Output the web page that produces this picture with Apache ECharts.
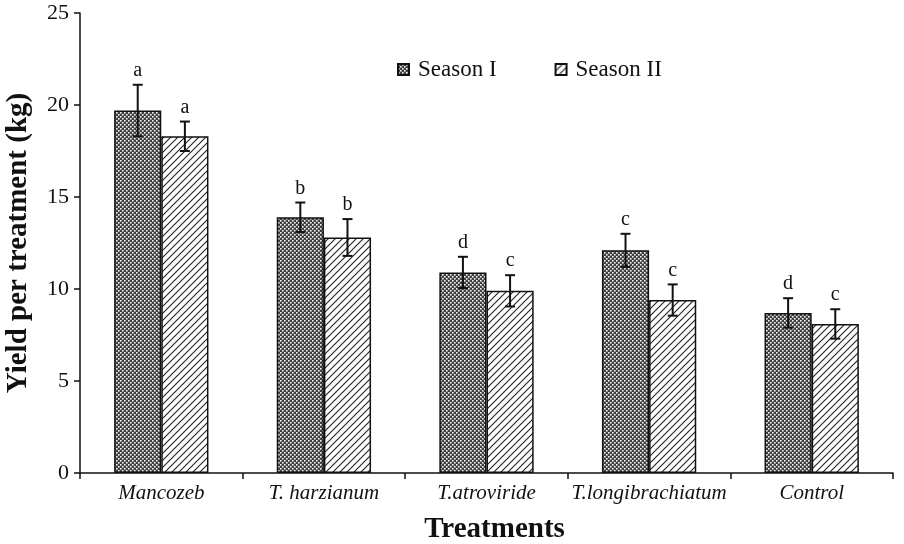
<!DOCTYPE html>
<html><head><meta charset="utf-8">
<script src="https://cdn.jsdelivr.net/npm/echarts@6/dist/echarts.min.js"></script>
<style>html,body{margin:0;padding:0;background:#fff}#c{width:904px;height:544px}</style>
</head><body><div id="c"></div>
<script>
var categories = ['Mancozeb', 'T. harzianum', 'T.atroviride', 'T.longibrachiatum', 'Control'];
var seasonI = [19.7, 13.9, 10.9, 12.1, 8.7];
var seasonII = [18.3, 12.8, 9.9, 9.4, 8.1];
var errI = [1.4, 0.8, 0.85, 0.9, 0.8];
var errII = [0.8, 1.0, 0.85, 0.85, 0.8];
var lettersI = ['a', 'b', 'd', 'c', 'd'];
var lettersII = ['a', 'b', 'c', 'c', 'c'];
var yTicks = [0, 5, 10, 15, 20, 25];

function checkerPattern() {
  var c = document.createElement('canvas'); c.width = 4; c.height = 4;
  var g = c.getContext('2d');
  g.fillStyle = '#404040'; g.fillRect(0, 0, 4, 4);
  g.fillStyle = '#f4f4f4';
  g.fillRect(0, 0, 1.6, 1.6); g.fillRect(2, 2, 1.6, 1.6);
  return c;
}
function hatchPattern() {
  var s = 7;
  var c = document.createElement('canvas'); c.width = s; c.height = s;
  var g = c.getContext('2d');
  g.fillStyle = '#ffffff'; g.fillRect(0, 0, s, s);
  g.strokeStyle = '#222'; g.lineWidth = 1.1;
  g.beginPath();
  g.moveTo(0, s); g.lineTo(s, 0);
  g.moveTo(-1, 1); g.lineTo(1, -1);
  g.moveTo(s - 1, s + 1); g.lineTo(s + 1, s - 1);
  g.stroke();
  return c;
}
var fillI = { image: checkerPattern(), repeat: 'repeat' };
var fillII = { image: hatchPattern(), repeat: 'repeat' };

var GAP = 0.42;
var serif = '"Liberation Serif", "Times New Roman", serif';
function errRender(vals, errs, letters, side) {
  return function (params, api) {
    var i = api.value(0);
    var band = api.size([1, 0])[0];
    var bw = band * (1 - GAP) / 2;
    var base = api.coord([i, vals[i]]);
    var x = base[0] + side * bw / 2;
    var top = api.coord([i, vals[i] + errs[i]])[1];
    var bot = api.coord([i, vals[i] - errs[i]])[1];
    var cap = 5;
    var st = { stroke: '#111', lineWidth: 2 };
    return {
      type: 'group',
      children: [
        { type: 'line', shape: { x1: x, y1: top, x2: x, y2: bot }, style: st },
        { type: 'line', shape: { x1: x - cap, y1: top, x2: x + cap, y2: top }, style: st },
        { type: 'line', shape: { x1: x - cap, y1: bot, x2: x + cap, y2: bot }, style: st },
        { type: 'text', x: x, y: top - 4, style: { text: letters[i], fill: '#111', font: '20px ' + serif, align: 'center', verticalAlign: 'bottom' } }
      ]
    };
  };
}

var chart = echarts.init(document.getElementById('c'), null, { renderer: 'canvas' });
chart.setOption({
  animation: false,
  backgroundColor: '#fff',
  textStyle: { fontFamily: serif, color: '#111' },
  grid: { left: 80, right: 11, top: 13, bottom: 71, containLabel: false, outerBoundsMode: 'none' },
  legend: {
    left: 392, top: 53, itemWidth: 11, itemHeight: 11, itemGap: 58, icon: 'rect',
    textStyle: { fontFamily: serif, fontSize: 23, color: '#111', padding: [0, 0, 0, 4] },
    data: ['Season I', 'Season II']
  },
  xAxis: {
    type: 'category', data: categories,
    axisLine: { lineStyle: { color: '#111', width: 1.5 } },
    axisTick: { show: true, length: 6, interval: 0, lineStyle: { color: '#111', width: 1.5 } },
    axisLabel: { fontFamily: serif, fontStyle: 'italic', fontSize: 21, color: '#111', margin: 10, interval: 0 },
    name: 'Treatments', nameLocation: 'middle', nameGap: 42,
    nameTextStyle: { fontFamily: serif, fontWeight: 'bold', fontSize: 29, color: '#111', padding: [0, 0, 0, 16] }
  },
  yAxis: {
    type: 'value', min: yTicks[0], max: yTicks[yTicks.length - 1], interval: 5,
    splitLine: { show: false },
    axisLine: { show: true, lineStyle: { color: '#111', width: 1.5 } },
    axisTick: { show: true, length: 6, lineStyle: { color: '#111', width: 1.5 } },
    axisLabel: { fontFamily: serif, fontSize: 22, color: '#111', margin: 11 },
    name: 'Yield per treatment (kg)', nameLocation: 'middle', nameGap: 47,
    nameTextStyle: { fontFamily: serif, fontWeight: 'bold', fontSize: 29, color: '#111' }
  },
  series: [
    { name: 'Season I', type: 'bar', data: seasonI, barGap: '0%', barCategoryGap: (GAP * 100) + '%',
      itemStyle: { color: fillI, borderColor: '#111', borderWidth: 1.5 } },
    { name: 'Season II', type: 'bar', data: seasonII, barGap: '0%', barCategoryGap: (GAP * 100) + '%',
      itemStyle: { color: fillII, borderColor: '#111', borderWidth: 1.5 } },
    { type: 'custom', data: categories.map(function (c, i) { return [i, seasonI[i]]; }),
      renderItem: errRender(seasonI, errI, lettersI, -1), z: 10, silent: true },
    { type: 'custom', data: categories.map(function (c, i) { return [i, seasonII[i]]; }),
      renderItem: errRender(seasonII, errII, lettersII, 1), z: 10, silent: true }
  ]
});
</script></body></html>
